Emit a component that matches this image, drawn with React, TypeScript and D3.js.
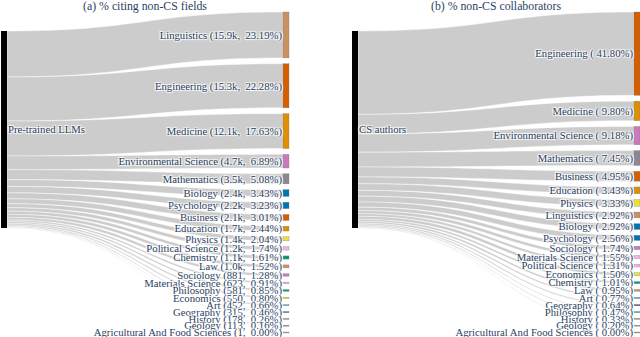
import React, { useEffect } from 'react';
import * as d3 from 'd3';

// (a) fields cited by pre-trained LLM papers
const leftFields = [
  'Linguistics', 'Engineering', 'Medicine', 'Environmental Science', 'Mathematics',
  'Biology', 'Psychology', 'Business', 'Education', 'Physics', 'Political Science',
  'Chemistry', 'Law', 'Sociology', 'Materials Science', 'Philosophy', 'Economics',
  'Art', 'Geography', 'History', 'Geology', 'Agricultural And Food Sciences',
];
const leftCounts = [
  '15.9k', '15.3k', '12.1k', '4.7k', '3.5k', '2.4k', '2.2k', '2.1k', '1.7k', '1.4k', '1.2k',
  '1.1k', '1.0k', '881', '623', '581', '550', '452', '315', '178', '113', '1',
];
const leftPct = [
  23.19, 22.28, 17.63, 6.89, 5.08, 3.43, 3.23, 3.01, 2.44, 2.04, 1.74,
  1.61, 1.52, 1.28, 0.91, 0.85, 0.8, 0.66, 0.46, 0.26, 0.16, 0.0,
];

// (b) fields of non-CS collaborators
const rightFields = [
  'Engineering', 'Medicine', 'Environmental Science', 'Mathematics', 'Business',
  'Education', 'Physics', 'Linguistics', 'Biology', 'Psychology', 'Sociology',
  'Materials Science', 'Political Science', 'Economics', 'Chemistry', 'Law', 'Art',
  'Geography', 'Philosophy', 'History', 'Geology', 'Agricultural And Food Sciences',
];
const rightPct = [
  41.8, 9.8, 9.18, 7.45, 4.95, 3.43, 3.33, 2.92, 2.92, 2.56, 1.74,
  1.55, 1.31, 1.5, 1.01, 0.95, 0.77, 0.64, 0.47, 0.33, 0.2, 0.0,
];

const fieldColors: Record<string, string> = {
  Linguistics: '#ca9161',
  Engineering: '#d55e00',
  Medicine: '#de8f05',
  'Environmental Science': '#cc78bc',
  Mathematics: '#8f8593',
  Biology: '#0173b2',
  Psychology: '#0173b2',
  Business: '#d55e00',
  Education: '#de8f05',
  Physics: '#ece133',
  'Political Science': '#fbafe4',
  Chemistry: '#029e73',
  Law: '#ca9161',
  Sociology: '#cc78bc',
  'Materials Science': '#fbafe4',
  Philosophy: '#029e73',
  Economics: '#ece133',
  Art: '#56b4e9',
  Geography: '#2f4b7c',
  History: '#8c8c8c',
  Geology: '#7f8fa6',
  'Agricultural And Food Sciences': '#ca9161',
};

const W = 640;
const H = 337;
const FONT = '"Liberation Serif", "Times New Roman", serif';
const TEXT_COLOR = '#2a3f5f';
const SHADOW = '1px 1px 1px #fff, -1px -1px 1px #fff, 1px -1px 1px #fff, -1px 1px 1px #fff';

type PanelProps = {
  x0: number;
  x1: number;
  title: string;
  source: string;
  fields: string[];
  pct: number[];
  labels: string[];
};

function Panel({ x0, x1, title, source, fields, pct, labels }: PanelProps) {
  const nodeW = 6;
  const srcTop = 31;
  const srcH = 197;
  const tgtTop = 12;
  const tgtBottom = 333;

  const total = d3.sum(pct);
  const yScale = d3.scaleLinear().domain([0, total]).range([0, srcH]);

  const heights = pct.map((v) => Math.max(yScale(v), 1));
  const pad = (tgtBottom - tgtTop - d3.sum(heights)) / (fields.length - 1);

  let ty = tgtTop;
  let sy = srcTop;
  const nodes = fields.map((f, i) => {
    const n = {
      name: f,
      y0: ty,
      y1: ty + heights[i],
      sy0: sy,
      sy1: sy + yScale(pct[i]),
      w: yScale(pct[i]),
    };
    ty += heights[i] + pad;
    sy += yScale(pct[i]);
    return n;
  });

  const sx = x0 + nodeW;
  const tx = x1 - nodeW;
  const mx = d3.interpolateNumber(sx, tx)(0.5);

  const ribbon = (n: typeof nodes[number]) => {
    const p = d3.path();
    p.moveTo(sx, n.sy0);
    p.bezierCurveTo(mx, n.sy0, mx, n.y0, tx, n.y0);
    p.lineTo(tx, n.y0 + n.w);
    p.bezierCurveTo(mx, n.y0 + n.w, mx, n.sy1, sx, n.sy1);
    p.closePath();
    return p.toString();
  };

  return (
    <g>
      <text
        x={(x0 + x1) / 2}
        y={10}
        textAnchor="middle"
        fontFamily={FONT}
        fontSize={11.8}
        fill={TEXT_COLOR}
      >
        {title}
      </text>
      {nodes.map((n) =>
        n.w > 0 ? (
          <path key={'l' + n.name} d={ribbon(n)} fill="#cccccc" stroke="#fff" strokeWidth={0.4} />
        ) : null
      )}
      <rect x={x0} y={srcTop} width={nodeW} height={srcH} fill="#000" />
      {nodes.map((n) => (
        <rect
          key={'n' + n.name}
          x={tx}
          y={n.y0}
          width={nodeW}
          height={n.y1 - n.y0}
          fill={fieldColors[n.name]}
          stroke="#777"
          strokeWidth={0.3}
        />
      ))}
      <text
        x={sx + 1}
        y={srcTop + srcH / 2}
        dy="0.35em"
        fontFamily={FONT}
        fontSize={10.7}
        fill={TEXT_COLOR}
        style={{ textShadow: SHADOW }}
      >
        {source}
      </text>
      {nodes.map((n, i) => (
        <text
          key={'t' + n.name}
          x={tx - 1}
          y={(n.y0 + n.y1) / 2}
          dy="0.35em"
          textAnchor="end"
          fontFamily={FONT}
          fontSize={10.7}
          fill={TEXT_COLOR}
          style={{ textShadow: SHADOW, whiteSpace: 'pre' }}
        >
          {labels[i]}
        </text>
      ))}
    </g>
  );
}

export default function App() {
  useEffect(() => {
    document.body.style.margin = '0';
  }, []);

  const leftLabels = leftFields.map(
    (f, i) => `${f} (${leftCounts[i]},  ${leftPct[i].toFixed(2)}%)`
  );
  const rightLabels = rightFields.map((f, i) => `${f} ( ${rightPct[i].toFixed(2)}%)`);

  return (
    <svg
      width={W}
      height={H}
      style={{ position: 'absolute', left: 0, top: 0, background: '#fff' }}
    >
      <Panel
        x0={1}
        x1={289}
        title="(a) % citing non-CS fields"
        source="Pre-trained LLMs"
        fields={leftFields}
        pct={leftPct}
        labels={leftLabels}
      />
      <Panel
        x0={352}
        x1={640}
        title="(b) % non-CS collaborators"
        source="CS authors"
        fields={rightFields}
        pct={rightPct}
        labels={rightLabels}
      />
    </svg>
  );
}
